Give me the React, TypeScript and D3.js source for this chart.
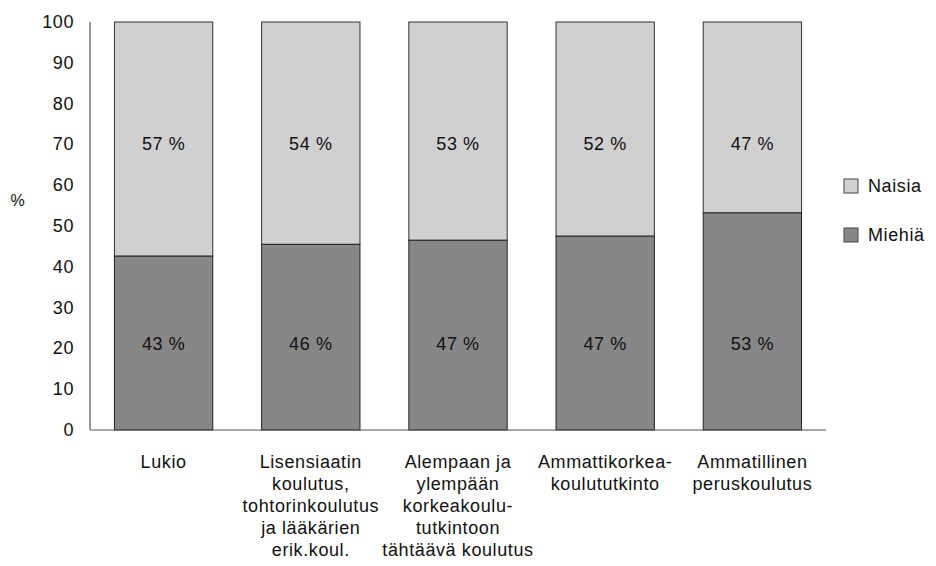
import React from "react";
import * as d3 from "d3";

const categories: string[][] = [
  ["Lukio"],
  ["Lisensiaatin", "koulutus,", "tohtorinkoulutus", "ja lääkärien", "erik.koul."],
  ["Alempaan ja", "ylempään", "korkeakoulu-", "tutkintoon", "tähtäävä koulutus"],
  ["Ammattikorkea-", "koulututkinto"],
  ["Ammatillinen", "peruskoulutus"],
];
const miehia: number[] = [42.6, 45.5, 46.5, 47.5, 53.2];
const naisia: number[] = miehia.map((m) => 100 - m);
const miehiaLabels: string[] = ["43 %", "46 %", "47 %", "47 %", "53 %"];
const naisiaLabels: string[] = ["57 %", "54 %", "53 %", "52 %", "47 %"];
const yTicks: number[] = [0, 10, 20, 30, 40, 50, 60, 70, 80, 90, 100];
const seriesNames: string[] = ["Naisia", "Miehiä"];

const W = 936;
const H = 566;
const FONT = "'Liberation Sans', Arial, sans-serif";

export default function App() {
  const x = d3
    .scaleBand<number>()
    .domain(categories.map((_, i) => i))
    .range([90, 826])
    .paddingInner(0.332)
    .paddingOuter(0.166);
  const y = d3.scaleLinear().domain([0, 100]).range([430, 22]);
  const colors = { naisia: "#d0d0d0", miehia: "#878787" };
  const textStyle = { fontFamily: FONT, fontSize: 18, letterSpacing: 0.6, fill: "#111" } as const;

  return (
    <svg
      width={W}
      height={H}
      style={{ position: "absolute", left: 0, top: 0, background: "#fff" }}
    >
      {/* bars */}
      {categories.map((_, i) => {
        const x0 = x(i)!;
        const bw = x.bandwidth();
        return (
          <g key={i}>
            <rect
              x={x0}
              y={y(100)}
              width={bw}
              height={y(miehia[i]) - y(100)}
              fill={colors.naisia}
              stroke="#333"
              strokeWidth={1}
            />
            <rect
              x={x0}
              y={y(miehia[i])}
              width={bw}
              height={y(0) - y(miehia[i])}
              fill={colors.miehia}
              stroke="#222"
              strokeWidth={1}
            />
            <text
              x={x0 + bw / 2}
              y={y(70)}
              textAnchor="middle"
              dominantBaseline="central"
              style={textStyle}
            >
              {naisiaLabels[i]}
            </text>
            <text
              x={x0 + bw / 2}
              y={y(21)}
              textAnchor="middle"
              dominantBaseline="central"
              style={textStyle}
            >
              {miehiaLabels[i]}
            </text>
          </g>
        );
      })}

      {/* axes */}
      <line x1={90} x2={90} y1={y(100)} y2={y(0)} stroke="#555" strokeWidth={1.2} />
      <line x1={90} x2={826} y1={y(0)} y2={y(0)} stroke="#555" strokeWidth={1.2} />

      {yTicks.map((t) => (
        <text
          key={t}
          x={74}
          y={y(t)}
          textAnchor="end"
          dominantBaseline="central"
          style={textStyle}
        >
          {t}
        </text>
      ))}

      <text x={18} y={200} textAnchor="middle" dominantBaseline="central" style={{ ...textStyle, fontSize: 16 }}>
        %
      </text>

      {/* category labels */}
      {categories.map((lines, i) => (
        <text
          key={i}
          x={x(i)! + x.bandwidth() / 2}
          y={462}
          textAnchor="middle"
          dominantBaseline="central"
          style={textStyle}
        >
          {lines.map((l, j) => (
            <tspan key={j} x={x(i)! + x.bandwidth() / 2} dy={j === 0 ? 0 : 22}>
              {l}
            </tspan>
          ))}
        </text>
      ))}

      {/* legend */}
      {seriesNames.map((name, i) => (
        <g key={name} transform={`translate(844, ${186 + i * 49})`}>
          <rect
            x={0}
            y={-7}
            width={14}
            height={14}
            fill={i === 0 ? colors.naisia : colors.miehia}
            stroke="#444"
            strokeWidth={1}
          />
          <text x={24} y={0} dominantBaseline="central" style={textStyle}>
            {name}
          </text>
        </g>
      ))}
    </svg>
  );
}
